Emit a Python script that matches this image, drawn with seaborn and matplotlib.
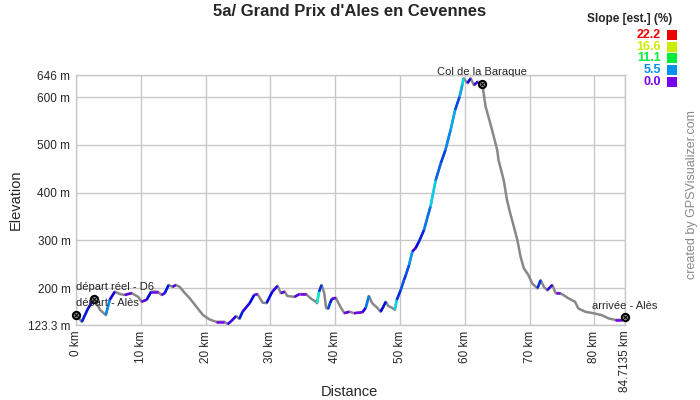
import numpy as np
import pandas as pd
import matplotlib
matplotlib.use("Agg")
import matplotlib.pyplot as plt
import matplotlib.colors as mcolors
from matplotlib.collections import LineCollection
from matplotlib.patches import Rectangle
import seaborn as sns

# Elevation profile
dist_km = [0.0, 0.9, 1.9, 2.8, 3.7, 4.6, 5.2, 6.0, 6.8, 7.5, 8.6, 9.6, 10.1, 10.9,
           11.6, 12.6, 13.2, 13.7, 14.3, 14.9, 15.4, 16.0, 16.8, 17.5, 18.6, 19.6,
           20.6, 21.6, 22.9, 23.4, 24.0, 24.7, 25.2, 25.7, 26.8, 27.5, 28.0, 28.8,
           29.4, 29.8, 30.3, 31.1, 31.6, 32.2, 32.6, 33.7, 34.5, 35.5, 36.3, 37.0,
           37.2, 37.5, 37.9, 38.3, 38.6, 38.9, 39.2, 39.5, 40.1, 40.5, 40.9, 41.4,
           42.2, 42.9, 44.2, 44.7, 45.2, 45.7, 46.5, 47.0, 47.4, 47.8, 48.2, 48.8,
           49.2, 49.5, 50.1, 50.6, 50.9, 51.4, 51.9, 52.4, 52.9, 53.7, 54.2, 54.7,
           55.5, 56.3, 57.0, 57.8, 58.5, 59.2, 59.6, 59.8, 60.4, 60.9, 61.4, 62.0,
           62.7, 62.9, 63.2, 63.7, 64.2, 65.0, 65.2, 66.0, 66.5, 67.0, 67.5, 68.1,
           68.6, 69.1, 69.8, 70.4, 71.2, 71.7, 72.2, 72.7, 73.2, 73.5, 74.0, 74.7,
           75.2, 76.0, 77.0, 77.5, 78.6, 79.8, 81.1, 82.2, 83.2, 84.2, 84.7135]
elev_m = [144, 130, 159, 178, 155, 144, 176, 193, 188, 186, 190, 182, 172, 176,
          193, 193, 186, 190, 207, 203, 207, 203, 190, 180, 161, 144,
          135, 130, 130, 125, 132, 142, 136, 151, 169, 186, 188, 170,
          169, 180, 193, 205, 190, 193, 184, 182, 188, 188, 178, 172,
          169, 193, 207, 190, 159, 157, 169, 178, 180, 169, 159, 148,
          151, 148, 150, 159, 184, 169, 159, 151, 161, 172, 163, 159,
          155, 176, 196, 217, 228, 249, 277, 284, 297, 322, 347, 371,
          426, 462, 489, 531, 573, 601, 625, 639, 629, 639, 625, 632,
          627, 608, 580, 556, 531, 489, 468, 426, 385, 357, 332, 301,
          266, 242, 228, 210, 200, 217, 203, 196, 203, 207, 190, 190,
          186, 179, 172, 158, 151, 148, 144, 137, 134, 134, 139]

# Waypoints
wpt_names = ["départ - Alès", "départ réel - D6", "Col de la Baraque", "arrivée - Alès"]
wpt_km = [0.0, 2.8, 62.7, 84.7135]
wpt_elev = [144, 178, 627, 139]

y_ticks = [123.3, 200, 300, 400, 500, 600, 646]
x_ticks = [0, 10, 20, 30, 40, 50, 60, 70, 80, 84.7135]
slope_levels = [22.2, 16.6, 11.1, 5.5, 0.0]

sns.set_style("white")
plt.rcParams['font.family'] = ['Liberation Sans', 'DejaVu Sans']


def slope_color(s):
    s = min(max(s, 0.0), 22.2)
    hue = (270 - 270 * s / 22.2) / 360.0
    return mcolors.hsv_to_rgb((hue, 1.0, 0.93))


df = pd.DataFrame({"km": dist_km, "elev": elev_m})

fig = plt.figure(figsize=(7, 4), dpi=100)
ax = fig.add_axes([76 / 700, 1 - 325 / 400, 549 / 700, 250 / 400])

# base profile (downhill stays grey)
sns.lineplot(data=df, x="km", y="elev", ax=ax, color="#888888", lw=1.8,
             sort=False, estimator=None, zorder=3)

# colour the uphill parts by slope
pts = df[["km", "elev"]].to_numpy()
segs, cols = [], []
for i in range(len(pts) - 1):
    d = (pts[i + 1, 0] - pts[i, 0]) * 1000
    s = (pts[i + 1, 1] - pts[i, 1]) / d * 100
    if s >= 0:
        segs.append(pts[i:i + 2])
        cols.append(slope_color(s))
ax.add_collection(LineCollection(segs, colors=cols, linewidths=1.8, zorder=4))

ax.set_xlim(0, 84.7135)
ax.set_ylim(123.3, 646)
ax.set_xticks(x_ticks)
ax.set_xticklabels([f"{t:g} km" for t in x_ticks], rotation=90, fontsize=8.5)
ax.set_yticks(y_ticks)
ax.set_yticklabels([f"{t:g} m" for t in y_ticks], fontsize=8.5)
ax.tick_params(length=0, pad=4)
ax.grid(True, color="#c8c8c8", lw=1)
for sp in ax.spines.values():
    sp.set_color("#c8c8c8")
    sp.set_linewidth(1)
ax.set_xlabel("")
ax.set_ylabel("")
fig.text(349 / 700, 1 - 392 / 400, "Distance", ha="center", va="center", fontsize=10.5)
fig.text(16 / 700, 1 - 200 / 400, "Elevation", ha="center", va="center",
         rotation=90, fontsize=10.5)

# waypoints
ax.scatter(wpt_km, wpt_elev, s=28, facecolor="#999999", edgecolor="black",
           linewidth=1.4, zorder=6, clip_on=False)
ax.scatter(wpt_km, wpt_elev, s=10, marker="x", color="black", linewidth=0.8,
           zorder=7, clip_on=False)
offsets = [(0, 5), (-13, 5), (0, 5), (0, 5)]
aligns = ["left", "left", "center", "center"]
for name, x, y, off, ha in zip(wpt_names, wpt_km, wpt_elev, offsets, aligns):
    ax.annotate(name, (x, y), xytext=off, textcoords="offset points",
                ha=ha, va="bottom", fontsize=8, zorder=8,
                annotation_clip=False)

fig.text(0.5, 1 - 12 / 400, "5a/ Grand Prix d'Ales en Cevennes",
         ha="center", va="center", fontsize=12, fontweight="bold")

# slope legend
fig.text(672 / 700, 1 - 19 / 400, "Slope [est.] (%)", ha="right", va="center",
         fontsize=8.5, fontweight="bold")
for i, lv in enumerate(slope_levels):
    yc = 35 + i * 11.7
    c = slope_color(lv)
    fig.text(661 / 700, 1 - yc / 400, f"{lv:.1f}", ha="right", va="center",
             fontsize=9, fontweight="bold", color=c)
    fig.patches.append(Rectangle((667 / 700, 1 - (yc + 5) / 400), 10 / 700, 10 / 400,
                                 transform=fig.transFigure, facecolor=c, linewidth=0))

fig.text(692 / 700, 1 - 195 / 400, "created by GPSVisualizer.com", rotation=90,
         ha="center", va="center", fontsize=9, color="#888888")

fig.savefig("out.png", dpi=100)
